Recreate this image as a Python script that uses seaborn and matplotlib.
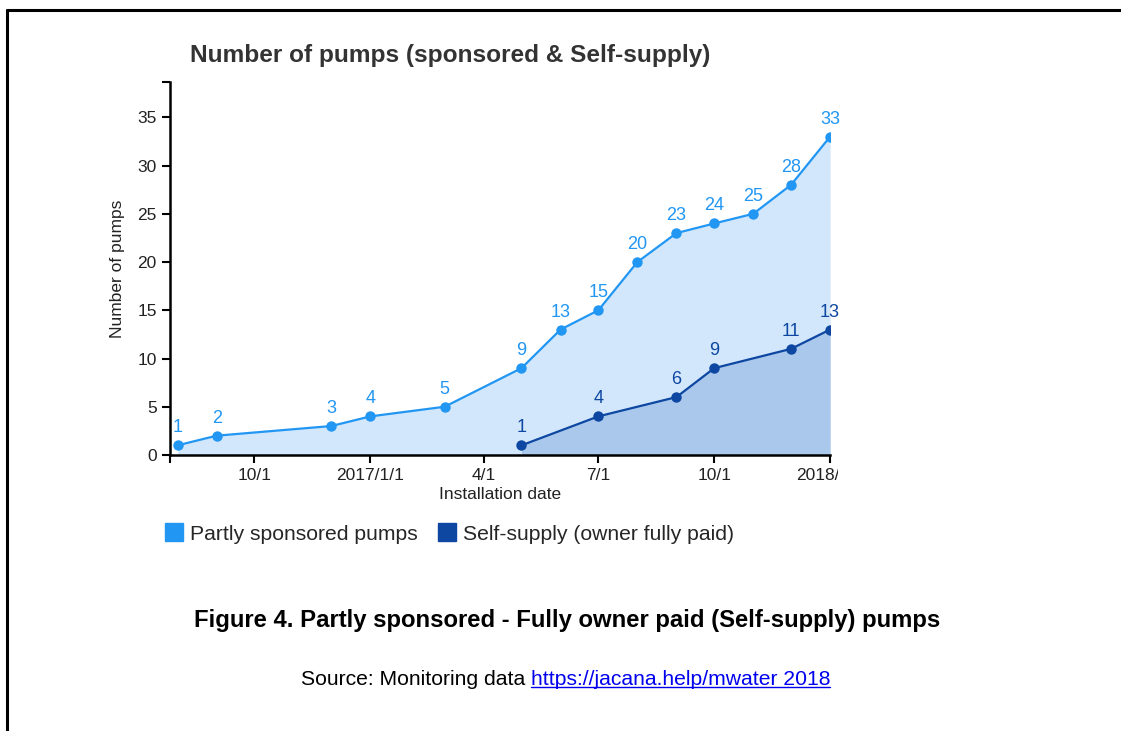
import matplotlib
matplotlib.use('Agg')
import matplotlib.pyplot as plt
from matplotlib.lines import Line2D
from matplotlib.transforms import Bbox, TransformedBbox
import seaborn as sns
import pandas as pd

# Chart data.
sponsored_dates = ['2016-08-01', '2016-09-01', '2016-12-01', '2017-01-01', '2017-03-01',
                   '2017-05-01', '2017-06-01', '2017-07-01', '2017-08-01', '2017-09-01',
                   '2017-10-01', '2017-11-01', '2017-12-01', '2018-01-01']
sponsored_counts = [1, 2, 3, 4, 5, 9, 13, 15, 20, 23, 24, 25, 28, 33]
self_dates = ['2017-05-01', '2017-07-01', '2017-09-01', '2017-10-01', '2017-12-01', '2018-01-01']
self_counts = [1, 4, 6, 9, 11, 13]
tick_dates = ['2016-10-01', '2017-01-01', '2017-04-01', '2017-07-01', '2017-10-01', '2018-01-01']
tick_labels = ['10/1', '2017/1/1', '4/1', '7/1', '10/1', '2018/1/1']
series_names = ['Partly sponsored pumps', 'Self-supply (owner fully paid)']

light_blue = '#2196F3'
dark_blue = '#0D47A1'

df_sp = pd.DataFrame({'date': pd.to_datetime(sponsored_dates), 'count': sponsored_counts})
df_self = pd.DataFrame({'date': pd.to_datetime(self_dates), 'count': self_counts})

sns.set_style('white')
plt.rcParams['font.family'] = ['Liberation Sans', 'DejaVu Sans']

fig = plt.figure(figsize=(11.21, 7.31), dpi=100)
ax = fig.add_axes([0.1517, 0.3776, 0.5888, 0.5107])

# Areas first, then lines with markers on top.
ax.fill_between(df_sp['date'], df_sp['count'], color='#D2E7FB', lw=0)
ax.fill_between(df_self['date'], df_self['count'], color='#A9C8EC', lw=0)
sns.lineplot(data=df_sp, x='date', y='count', ax=ax, color=light_blue, lw=1.6,
             marker='o', markersize=7.5, markeredgewidth=0)
sns.lineplot(data=df_self, x='date', y='count', ax=ax, color=dark_blue, lw=1.6,
             marker='o', markersize=7.5, markeredgewidth=0)

for d, c in zip(df_sp['date'], df_sp['count']):
    ax.annotate(str(c), (d, c), xytext=(0, 6.5), textcoords='offset points',
                ha='center', va='bottom', color=light_blue, fontsize=13)
for d, c in zip(df_self['date'], df_self['count']):
    ax.annotate(str(c), (d, c), xytext=(0, 6.5), textcoords='offset points',
                ha='center', va='bottom', color=dark_blue, fontsize=13)

x_min = pd.Timestamp('2016-07-26')
x_max = pd.Timestamp('2018-01-01')
y_max = 38.7
ax.set_xlim(x_min, x_max)
ax.set_ylim(0, y_max)

# d3 style axes: domain caps at both ends.
xt = [x_min] + list(pd.to_datetime(tick_dates))
ax.set_xticks(xt)
ax.set_xticklabels([''] + tick_labels)
ax.set_yticks([0, 5, 10, 15, 20, 25, 30, 35, y_max])
ax.set_yticklabels(['0', '5', '10', '15', '20', '25', '30', '35', ''])
ax.tick_params(axis='both', which='major', direction='out', length=6, width=1.5,
               color='black', labelsize=12.5, labelcolor='#222222', pad=3.5)
ax.tick_params(axis='both', bottom=True, left=True)

# the last date label is cut off at the chart's edge in the original
clip = TransformedBbox(Bbox([[0, 0], [838 / 1121, 1]]), fig.transFigure)
last = ax.get_xticklabels()[-1]
last.set_clip_box(clip)
last.set_clip_on(True)

for side in ['top', 'right']:
    ax.spines[side].set_visible(False)
for side in ['left', 'bottom']:
    ax.spines[side].set_color('black')
    ax.spines[side].set_linewidth(1.8)

ax.set_xlabel('Installation date', fontsize=12.5, color='#222222', labelpad=3)
ax.set_ylabel('Number of pumps', fontsize=12.5, color='#222222', labelpad=9)
ax.set_title('Number of pumps (sponsored & Self-supply)', fontsize=17.6, fontweight='bold',
             color='#333333', loc='left', x=0.03, y=1.03)
ax.grid(False)

# Legend squares
handles = [Line2D([], [], marker='s', ls='', color=light_blue, markersize=13),
           Line2D([], [], marker='s', ls='', color=dark_blue, markersize=13)]
fig.legend(handles, series_names, loc='upper left', bbox_to_anchor=(0.138, 0.294),
           ncol=2, frameon=False, fontsize=15.2, handletextpad=0.25, columnspacing=0.9,
           handlelength=1.0, borderaxespad=0)

# Caption and source
fig.text(0.506, 0.151, 'Figure 4. Partly sponsored - Fully owner paid (Self-supply) pumps',
         ha='center', va='center', fontsize=17.2, fontweight='bold', color='black')
src = fig.text(0.4735, 0.071, 'Source: Monitoring data ', ha='right', va='center',
               fontsize=15.2, color='black')
link = fig.text(0.4735, 0.071, 'https://jacana.help/mwater 2018', ha='left', va='center',
                fontsize=15.2, color='#0000EE')

# Page frame (top and left edges)
fig.add_artist(Line2D([7 / 1121, 1.0], [1 - 10 / 731, 1 - 10 / 731], color='black', lw=2.2,
                      transform=fig.transFigure))
fig.add_artist(Line2D([7 / 1121, 7 / 1121], [0, 1 - 10 / 731], color='black', lw=2.2,
                      transform=fig.transFigure))

# Underline the link
fig.canvas.draw()
bb = link.get_window_extent().transformed(fig.transFigure.inverted())
fig.add_artist(Line2D([bb.x0, bb.x1], [bb.y0 + 0.002, bb.y0 + 0.002], color='#0000EE', lw=1,
                      transform=fig.transFigure))

fig.savefig('out.png', dpi=100, facecolor='white')
